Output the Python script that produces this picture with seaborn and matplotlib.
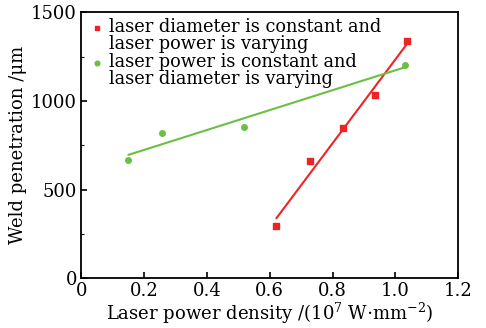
import matplotlib
matplotlib.use('Agg')
import matplotlib.pyplot as plt
from matplotlib.ticker import MultipleLocator
import seaborn as sns
import pandas as pd

# laser diameter constant, power varying
red_x = [0.621, 0.729, 0.834, 0.936, 1.038]
red_y = [295, 662, 849, 1036, 1340]
# laser power constant, diameter varying
green_x = [0.150, 0.258, 0.519, 1.030]
green_y = [668, 820, 855, 1203]

red_label = 'laser diameter is constant and\nlaser power is varying'
green_label = 'laser power is constant and\nlaser diameter is varying'

sns.set_style('ticks')
plt.rcParams['font.family'] = ['DejaVu Serif']
plt.rcParams['mathtext.fontset'] = 'dejavuserif'
for k in ['text.color', 'axes.labelcolor', 'xtick.color', 'ytick.color']:
    plt.rcParams[k] = 'black'

fig = plt.figure(figsize=(4.86, 3.28), dpi=100)
ax = fig.add_axes([0.167, 0.152, 0.776, 0.81])

df_red = pd.DataFrame({'x': red_x, 'y': red_y})
df_green = pd.DataFrame({'x': green_x, 'y': green_y})

sns.regplot(x='x', y='y', data=df_red, ci=None, ax=ax, marker='s',
            color='#ee2424', scatter_kws={'s': 14, 'alpha': 1}, line_kws={'lw': 1.5},
            label=red_label)
sns.regplot(x='x', y='y', data=df_green, ci=None, ax=ax, marker='o',
            color='#6abf45', scatter_kws={'s': 16, 'alpha': 1}, line_kws={'lw': 1.5},
            label=green_label)

ax.set_xlim(0, 1.2)
ax.set_ylim(0, 1500)
ax.set_xticks([0, 0.2, 0.4, 0.6, 0.8, 1.0, 1.2])
ax.set_xticklabels(['0', '0.2', '0.4', '0.6', '0.8', '1.0', '1.2'])
ax.yaxis.set_major_locator(MultipleLocator(500))
ax.yaxis.set_minor_locator(MultipleLocator(250))
ax.tick_params(direction='in', length=4, width=1.2, labelsize=13, pad=3)
ax.tick_params(axis='y', which='minor', direction='in', length=2, width=0.8)
for s in ax.spines.values():
    s.set_linewidth(1.3)
    s.set_color('black')

ax.set_xlabel(r'Laser power density /(10$^{7}$ W$\cdot$mm$^{-2}$)', fontsize=13, labelpad=0)
ax.set_ylabel('Weld penetration /\u03bcm', fontsize=13, labelpad=3)

leg = ax.legend(loc='upper left', bbox_to_anchor=(0.015, 1.0), frameon=False,
                fontsize=12.8, handlelength=0.5, handletextpad=0.45,
                borderaxespad=0.0, labelspacing=0.0, borderpad=0.3,
                markerscale=0.85, scatteryoffsets=[1.2])
for t in leg.get_texts():
    t.set_linespacing(0.95)

fig.savefig('out.png', dpi=100)
